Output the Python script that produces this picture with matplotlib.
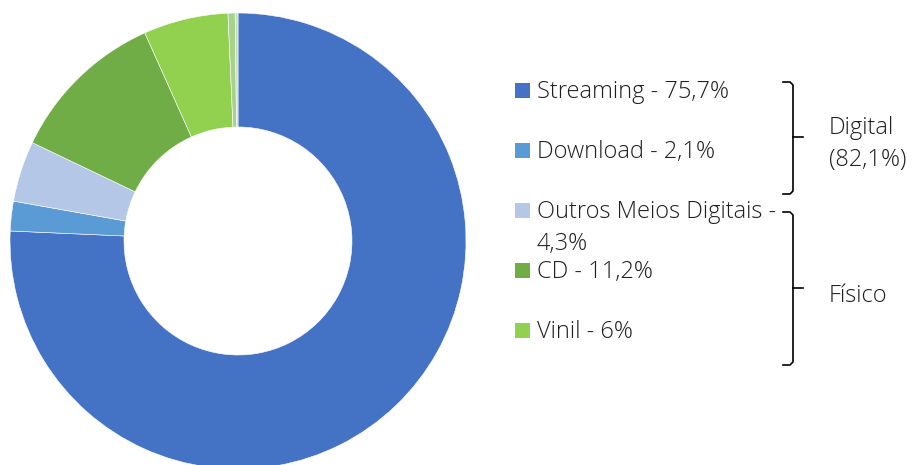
import matplotlib
matplotlib.use("Agg")
import matplotlib.pyplot as plt
from matplotlib.patches import Rectangle


# Data

categories = ["Streaming", "Download", "Outros Meios Digitais", "CD", "Vinil", "Outros 1", "Outros 2"]
shares = [75.7, 2.1, 4.3, 11.2, 6.0, 0.5, 0.2]
colors = ["#4472C4", "#5B9BD5", "#B4C7E7", "#70AD47", "#92D050", "#A9D18E", "#C5E0B4"]
legend_count = 5
groups = ["Digital", "Físico"]
group_share = {"Digital": 82.1}


def pct(v):
    return f"{v:g}".replace(".", ",") + "%"


W, H = 919, 465
fig = plt.figure(figsize=(W / 100, H / 100), dpi=100)
plt.rcParams["font.family"] = ["Open Sans", "DejaVu Sans"]
TEXT = "#1f1f1f"
FS = 17
WEIGHT = "light"

# Donut: centre (238, 241) px, radius 228 px
cx, cy, r = 238, 241, 228
ax = fig.add_axes([(cx - r) / W, (H - cy - r) / H, 2 * r / W, 2 * r / H])
ax.pie(shares, colors=colors, startangle=90, counterclock=False,
       wedgeprops=dict(width=0.5, edgecolor="white", linewidth=0.4))
ax.set_xlim(-1, 1)
ax.set_ylim(-1, 1)
ax.set_aspect("equal")
ax.axis("off")

# Overlay in pixel coordinates for legend and brackets
ov = fig.add_axes([0, 0, 1, 1])
ov.set_xlim(0, W)
ov.set_ylim(H, 0)
ov.axis("off")

baselines = [98, 158, 218, 278, 338]
for i in range(legend_count):
    b = baselines[i]
    ov.add_patch(Rectangle((515, b - 15), 15, 15, color=colors[i], lw=0))
    if categories[i] == "Outros Meios Digitais":
        # legend entry wraps onto a second line
        ov.text(537, b, f"{categories[i]} -", fontsize=FS, color=TEXT,
                va="baseline", fontweight=WEIGHT)
        ov.text(537, b + 32, pct(shares[i]), fontsize=FS, color=TEXT,
                va="baseline", fontweight=WEIGHT)
    else:
        ov.text(537, b, f"{categories[i]} - {pct(shares[i])}", fontsize=FS,
                color=TEXT, va="baseline", fontweight=WEIGHT)


def bracket(y0, y1, ym):
    xv = 793
    ov.plot([783, 790, xv, xv, 790, 783], [y0, y0, y0 + 3, y1 - 3, y1, y1],
            color="black", lw=1.2, solid_joinstyle="round")
    ov.plot([xv, 803], [ym, ym], color="black", lw=1.2)


bracket(82, 194, 137)
bracket(212, 365, 288)

ov.text(829, 134, groups[0], fontsize=FS, color=TEXT, va="baseline", fontweight=WEIGHT)
ov.text(829, 166, f"({pct(group_share['Digital'])})", fontsize=FS, color=TEXT,
        va="baseline", fontweight=WEIGHT)
ov.text(829, 302, groups[1], fontsize=FS, color=TEXT, va="baseline", fontweight=WEIGHT)

fig.savefig("out.png", dpi=100)
